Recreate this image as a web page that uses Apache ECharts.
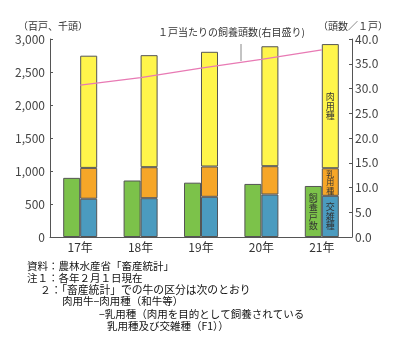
<!DOCTYPE html>
<html><head><meta charset="utf-8">
<script src="https://cdn.jsdelivr.net/npm/echarts@6/dist/echarts.min.js"></script>
<style>html,body{margin:0;padding:0;background:#fff}#c{width:400px;height:355px}</style>
</head><body><div id="c"></div>
<script>
const categories = ['17年','18年','19年','20年','21年'];
const households = [896, 856, 823, 804, 773];      // 飼養戸数 (百戸)
const crossbred = [580, 588, 609, 644, 624];       // 交雑種 (千頭)
const dairy = [467, 470, 459, 429, 418];           // 乳用種 (千頭)
const beef = [1700, 1697, 1738, 1817, 1881];       // 肉用種 (千頭)
const perHousehold = [30.7, 32.2, 34.1, 35.9, 37.8]; // 1戸当たり飼養頭数
const leftTicks = [0, 500, 1000, 1500, 2000, 2500, 3000];
const rightTicks = [0, 5, 10, 15, 20, 25, 30, 35, 40];

const F = '"Noto Sans CJK JP", "Noto Sans", sans-serif';
const border = {borderColor:'#555', borderWidth:1};
function lastLabel(arr, txt, size, color){
  return arr.map((v,i)=> i===arr.length-1 ? {value:v, label:{show:true, position:'inside', formatter:txt, fontSize:size, lineHeight:size+0.5, color:color, fontFamily:F}} : v);
}
const chart = echarts.init(document.getElementById('c'), null, {renderer:'canvas'});
chart.setOption({
  animation:false,
  grid:{left:50, right:48, top:39, bottom:118},
  xAxis:{type:'category', data:categories,
    axisLine:{lineStyle:{color:'#555'}},
    axisTick:{inside:true, length:3, lineStyle:{color:'#555'}},
    axisLabel:{fontSize:12, color:'#333', margin:4, fontFamily:F}},
  yAxis:[
    {type:'value', min:leftTicks[0], max:leftTicks[leftTicks.length-1], interval:500,
     axisLine:{show:true, lineStyle:{color:'#555'}},
     axisTick:{show:true, inside:true, length:3, lineStyle:{color:'#555'}},
     splitLine:{show:false},
     axisLabel:{fontSize:12, color:'#444', margin:5, fontFamily:F,
       formatter:v=>v.toLocaleString('en-US')}},
    {type:'value', min:rightTicks[0], max:rightTicks[rightTicks.length-1], interval:5, position:'right',
     axisLine:{show:true, lineStyle:{color:'#555'}},
     axisTick:{show:true, inside:true, length:3, lineStyle:{color:'#555'}},
     splitLine:{show:false},
     axisLabel:{fontSize:12, color:'#444', margin:3, fontFamily:F,
       formatter:v=>v.toFixed(1)}}
  ],
  series:[
    {name:'飼養戸数', type:'bar', barWidth:17, barGap:'0%',
     itemStyle:Object.assign({color:'#7cc24a'},border),
     data:lastLabel(households,'飼\n養\n戸\n数',9,'#333')},
    {name:'交雑種', type:'bar', stack:'s', barWidth:17,
     itemStyle:Object.assign({color:'#4b9bbf'},border),
     data:lastLabel(crossbred,'交\n雑\n種',9,'#333')},
    {name:'乳用種', type:'bar', stack:'s', barWidth:17,
     itemStyle:Object.assign({color:'#f6a628'},border),
     data:lastLabel(dairy,'乳\n用\n種',8,'#333')},
    {name:'肉用種', type:'bar', stack:'s', barWidth:17,
     itemStyle:Object.assign({color:'#fff54b'},border),
     data:lastLabel(beef,'肉\n用\n種',9,'#333')},
    {name:'1戸当たりの飼養頭数', type:'line', yAxisIndex:1, data:perHousehold,
     symbol:'none', lineStyle:{color:'#e87ab4', width:1.3}, z:5}
  ],
  graphic:[
    {type:'text', left:18, top:21, style:{text:'（百戸、千頭）', fontSize:10, fill:'#333', fontFamily:F}},
    {type:'text', left:158, top:27, style:{text:'１戸当たりの飼養頭数(右目盛り)', fontSize:10, fill:'#333', fontFamily:F}},
    {type:'text', left:318, top:21, style:{text:'（頭数／１戸）', fontSize:10, fill:'#333', fontFamily:F}},
    {type:'line', shape:{x1:241, y1:44, x2:241, y2:61}, style:{stroke:'#888', lineWidth:1}},
    {type:'text', left:27, top:261, style:{text:'資料：農林水産省「畜産統計」', fontSize:10.5, fill:'#111', fontFamily:F}},
    {type:'text', left:27, top:273, style:{text:'注１：各年２月１日現在', fontSize:10.5, fill:'#111', fontFamily:F}},
    {type:'text', left:40, top:285, style:{text:'２：「畜産統計」での牛の区分は次のとおり', fontSize:10.8, fill:'#111', fontFamily:F}},
    {type:'text', left:62, top:296, style:{text:'肉用牛−肉用種（和牛等）', fontSize:10.5, fill:'#111', fontFamily:F}},
    {type:'text', left:99, top:309, style:{text:'−乳用種（肉用を目的として飼養されている', fontSize:10.5, fill:'#111', fontFamily:F}},
    {type:'text', left:107, top:321, style:{text:'乳用種及び交雑種（F1））', fontSize:10.5, fill:'#111', fontFamily:F}}
  ]
});
</script></body></html>
